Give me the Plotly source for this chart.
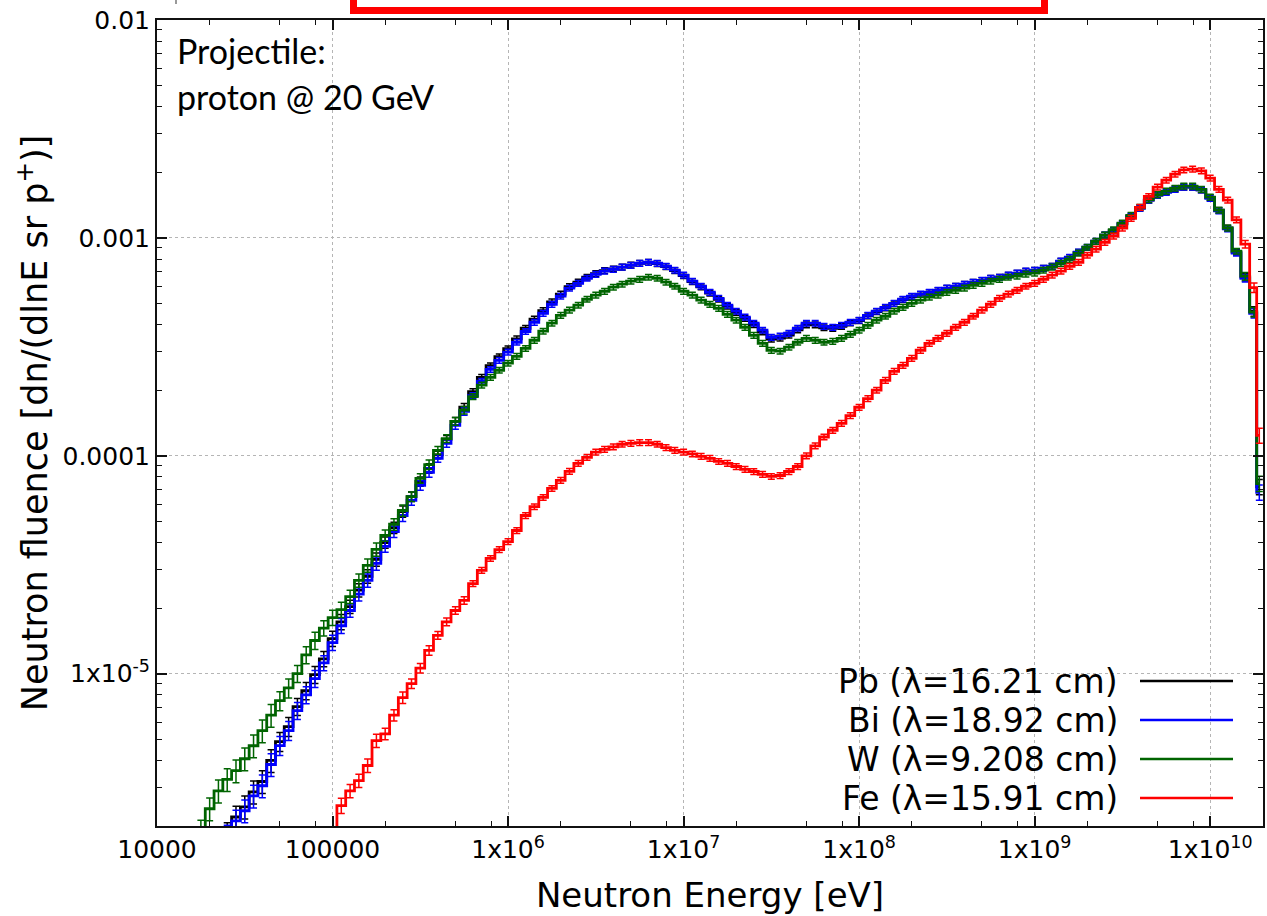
import plotly.graph_objects as go

# log10 of bin-centre energy (eV), 20 bins per decade
LOG_E = [
    4.20, 4.25, 4.30, 4.35, 4.40, 4.45, 4.50, 4.55, 4.60, 4.65,
    4.70, 4.75, 4.80, 4.85, 4.90, 4.95, 5.00, 5.05, 5.10, 5.15,
    5.20, 5.25, 5.30, 5.35, 5.40, 5.45, 5.50, 5.55, 5.60, 5.65,
    5.70, 5.75, 5.80, 5.85, 5.90, 5.95, 6.00, 6.05, 6.10, 6.15,
    6.20, 6.25, 6.30, 6.35, 6.40, 6.45, 6.50, 6.55, 6.60, 6.65,
    6.70, 6.75, 6.80, 6.85, 6.90, 6.95, 7.00, 7.05, 7.10, 7.15,
    7.20, 7.25, 7.30, 7.35, 7.40, 7.45, 7.50, 7.55, 7.60, 7.65,
    7.70, 7.75, 7.80, 7.85, 7.90, 7.95, 8.00, 8.05, 8.10, 8.15,
    8.20, 8.25, 8.30, 8.35, 8.40, 8.45, 8.50, 8.55, 8.60, 8.65,
    8.70, 8.75, 8.80, 8.85, 8.90, 8.95, 9.00, 9.05, 9.10, 9.15,
    9.20, 9.25, 9.30, 9.35, 9.40, 9.45, 9.50, 9.55, 9.60, 9.65,
    9.70, 9.75, 9.80, 9.85, 9.90, 9.95, 10.00, 10.05, 10.10, 10.15,
    10.20, 10.25, 10.28,
]
ENERGY = [10 ** v for v in LOG_E]

PB = [
    1.0e-6, 1.2e-6, 1.4e-6, 1.6e-6, 1.85e-6, 2.2e-6, 2.45e-6, 2.87e-6, 3.2e-6, 4.0e-6,
    4.88e-6, 5.72e-6, 7.06e-6, 8.35e-6, 9.9e-6, 1.17e-5, 1.45e-5, 1.73e-5, 2.03e-5, 2.42e-5,
    2.80e-5, 3.35e-5, 4.0e-5, 4.68e-5, 5.55e-5, 6.5e-5, 7.62e-5, 8.76e-5, 1.01e-4, 1.19e-4,
    1.44e-4, 1.67e-4, 1.97e-4, 2.29e-4, 2.59e-4, 2.85e-4, 3.10e-4, 3.44e-4, 3.85e-4, 4.24e-4,
    4.64e-4, 5.09e-4, 5.52e-4, 5.98e-4, 6.27e-4, 6.6e-4, 6.86e-4, 7.08e-4, 7.2e-4, 7.35e-4,
    7.5e-4, 7.64e-4, 7.72e-4, 7.63e-4, 7.38e-4, 7.08e-4, 6.72e-4, 6.3e-4, 5.96e-4, 5.58e-4,
    5.23e-4, 4.86e-4, 4.55e-4, 4.27e-4, 4.0e-4, 3.7e-4, 3.43e-4, 3.47e-4, 3.58e-4, 3.78e-4,
    3.99e-4, 3.99e-4, 3.87e-4, 3.84e-4, 3.93e-4, 4.07e-4, 4.17e-4, 4.39e-4, 4.59e-4, 4.78e-4,
    4.99e-4, 5.21e-4, 5.38e-4, 5.5e-4, 5.62e-4, 5.74e-4, 5.87e-4, 5.99e-4, 6.12e-4, 6.25e-4,
    6.38e-4, 6.52e-4, 6.6e-4, 6.74e-4, 6.88e-4, 7.03e-4, 7.1e-4, 7.25e-4, 7.4e-4, 7.8e-4,
    8.13e-4, 8.58e-4, 9.04e-4, 9.63e-4, 1.03e-3, 1.08e-3, 1.16e-3, 1.26e-3, 1.37e-3, 1.49e-3,
    1.57e-3, 1.63e-3, 1.68e-3, 1.71e-3, 1.71e-3, 1.66e-3, 1.53e-3, 1.34e-3, 1.11e-3, 8.6e-4,
    6.6e-4, 4.6e-4, 7.2e-5,
]

BI = [
    1.0e-6, 1.2e-6, 1.4e-6, 1.6e-6, 1.8e-6, 2.11e-6, 2.35e-6, 2.75e-6, 3.06e-6, 3.83e-6,
    4.68e-6, 5.48e-6, 6.77e-6, 8.0e-6, 9.5e-6, 1.12e-5, 1.39e-5, 1.66e-5, 1.95e-5, 2.32e-5,
    2.68e-5, 3.21e-5, 3.84e-5, 4.49e-5, 5.32e-5, 6.24e-5, 7.31e-5, 8.40e-5, 9.73e-5, 1.14e-4,
    1.38e-4, 1.60e-4, 1.89e-4, 2.20e-4, 2.49e-4, 2.74e-4, 2.99e-4, 3.32e-4, 3.72e-4, 4.10e-4,
    4.51e-4, 4.96e-4, 5.40e-4, 5.88e-4, 6.19e-4, 6.53e-4, 6.81e-4, 7.04e-4, 7.18e-4, 7.34e-4,
    7.49e-4, 7.65e-4, 7.73e-4, 7.65e-4, 7.41e-4, 7.11e-4, 6.75e-4, 6.33e-4, 6.00e-4, 5.63e-4,
    5.28e-4, 4.91e-4, 4.61e-4, 4.33e-4, 4.06e-4, 3.77e-4, 3.50e-4, 3.54e-4, 3.65e-4, 3.85e-4,
    4.06e-4, 4.06e-4, 3.93e-4, 3.89e-4, 3.97e-4, 4.10e-4, 4.19e-4, 4.41e-4, 4.61e-4, 4.80e-4,
    5.01e-4, 5.23e-4, 5.40e-4, 5.52e-4, 5.63e-4, 5.75e-4, 5.88e-4, 6.00e-4, 6.13e-4, 6.26e-4,
    6.39e-4, 6.53e-4, 6.60e-4, 6.75e-4, 6.89e-4, 7.04e-4, 7.11e-4, 7.26e-4, 7.41e-4, 7.82e-4,
    8.15e-4, 8.60e-4, 9.06e-4, 9.65e-4, 1.03e-3, 1.08e-3, 1.16e-3, 1.26e-3, 1.37e-3, 1.49e-3,
    1.57e-3, 1.62e-3, 1.67e-3, 1.71e-3, 1.71e-3, 1.66e-3, 1.52e-3, 1.33e-3, 1.10e-3, 8.51e-4,
    6.53e-4, 4.51e-4, 6.8e-5,
]

W = [
    1.5e-6, 1.9e-6, 2.4e-6, 2.9e-6, 3.27e-6, 3.59e-6, 4.07e-6, 4.67e-6, 5.48e-6, 6.45e-6,
    7.52e-6, 8.6e-6, 1.0e-5, 1.22e-5, 1.42e-5, 1.62e-5, 1.81e-5, 1.97e-5, 2.26e-5, 2.68e-5,
    3.14e-5, 3.72e-5, 4.31e-5, 4.85e-5, 5.61e-5, 6.5e-5, 7.87e-5, 9.1e-5, 1.06e-4, 1.2e-4,
    1.44e-4, 1.62e-4, 1.87e-4, 2.11e-4, 2.29e-4, 2.47e-4, 2.66e-4, 2.86e-4, 3.11e-4, 3.39e-4,
    3.73e-4, 4.06e-4, 4.41e-4, 4.66e-4, 4.91e-4, 5.23e-4, 5.46e-4, 5.69e-4, 5.94e-4, 6.13e-4,
    6.33e-4, 6.46e-4, 6.60e-4, 6.53e-4, 6.26e-4, 6.0e-4, 5.69e-4, 5.46e-4, 5.18e-4, 4.96e-4,
    4.75e-4, 4.46e-4, 4.19e-4, 3.89e-4, 3.57e-4, 3.28e-4, 3.05e-4, 3.02e-4, 3.15e-4, 3.32e-4,
    3.46e-4, 3.39e-4, 3.32e-4, 3.35e-4, 3.46e-4, 3.61e-4, 3.77e-4, 3.97e-4, 4.19e-4, 4.37e-4,
    4.61e-4, 4.80e-4, 5.01e-4, 5.18e-4, 5.35e-4, 5.46e-4, 5.63e-4, 5.75e-4, 5.88e-4, 6.06e-4,
    6.19e-4, 6.33e-4, 6.46e-4, 6.60e-4, 6.67e-4, 6.82e-4, 6.89e-4, 7.11e-4, 7.34e-4, 7.65e-4,
    7.98e-4, 8.51e-4, 9.06e-4, 9.65e-4, 1.03e-3, 1.09e-3, 1.17e-3, 1.27e-3, 1.38e-3, 1.50e-3,
    1.58e-3, 1.64e-3, 1.69e-3, 1.73e-3, 1.73e-3, 1.67e-3, 1.54e-3, 1.34e-3, 1.11e-3, 8.69e-4,
    6.67e-4, 4.56e-4, 7.46e-5,
]

FE = [
    None, None, None, None, None, None, None, None, None, None,
    None, None, None, None, None, None, 1.5e-6, 2.48e-6, 2.90e-6, 3.23e-6,
    3.79e-6, 4.93e-6, 5.3e-6, 6.45e-6, 7.77e-6, 9.0e-6, 1.06e-5, 1.28e-5, 1.50e-5, 1.73e-5,
    1.95e-5, 2.17e-5, 2.59e-5, 2.98e-5, 3.38e-5, 3.71e-5, 4.04e-5, 4.54e-5, 5.32e-5, 5.84e-5,
    6.44e-5, 7.08e-5, 7.71e-5, 8.49e-5, 9.23e-5, 9.84e-5, 1.04e-4, 1.07e-4, 1.10e-4, 1.13e-4,
    1.14e-4, 1.15e-4, 1.15e-4, 1.13e-4, 1.09e-4, 1.06e-4, 1.04e-4, 1.02e-4, 9.94e-5, 9.73e-5,
    9.42e-5, 9.23e-5, 8.93e-5, 8.67e-5, 8.47e-5, 8.22e-5, 8.04e-5, 8.12e-5, 8.47e-5, 8.93e-5,
    1.0e-4, 1.11e-4, 1.22e-4, 1.31e-4, 1.41e-4, 1.53e-4, 1.67e-4, 1.83e-4, 2.0e-4, 2.22e-4,
    2.44e-4, 2.60e-4, 2.80e-4, 3.05e-4, 3.28e-4, 3.46e-4, 3.65e-4, 3.89e-4, 4.10e-4, 4.37e-4,
    4.66e-4, 4.96e-4, 5.28e-4, 5.52e-4, 5.75e-4, 6.0e-4, 6.19e-4, 6.46e-4, 6.75e-4, 7.04e-4,
    7.41e-4, 7.73e-4, 8.33e-4, 8.88e-4, 9.55e-4, 1.02e-3, 1.11e-3, 1.23e-3, 1.38e-3, 1.55e-3,
    1.71e-3, 1.84e-3, 1.96e-3, 2.05e-3, 2.07e-3, 2.03e-3, 1.88e-3, 1.67e-3, 1.49e-3, 1.21e-3,
    9.36e-4, 5.91e-4, 1.24e-4,
]

# relative statistical error (%) per bin
ERR_PCT = [
    12, 12, 12, 12, 12, 12, 12, 12, 12, 12,
    10, 10, 9, 9, 9, 8, 8, 8, 7, 7,
    7, 7, 6, 6, 6, 5, 5, 5, 4, 4,
    4, 4, 3, 3, 3, 3, 3, 3, 3, 3,
    3, 3, 3, 3, 3, 3, 3, 3, 3, 3,
    3, 3, 3, 3, 3, 3, 3, 3, 3, 3,
    3, 3, 3, 3, 3, 3, 3, 3, 3, 3,
    3, 3, 3, 3, 3, 3, 3, 3, 3, 3,
    3, 3, 3, 3, 3, 3, 3, 3, 3, 3,
    3, 3, 3, 3, 3, 3, 3, 3, 3, 3,
    3, 3, 3, 3, 3, 3, 3, 3, 3, 3,
    3, 3, 3, 3, 3, 3, 3, 3, 3, 3,
    4, 5, 8,
]

SERIES = [
    ("Pb (λ=16.21 cm)", PB, "#000000"),
    ("Bi (λ=18.92 cm)", BI, "#0000ff"),
    ("W (λ=9.208 cm)", W, "#006400"),
    ("Fe (λ=15.91 cm)", FE, "#ff0000"),
]

X_TICKS = [1e4, 1e5, 1e6, 1e7, 1e8, 1e9, 1e10]
X_TICKTEXT = ["10000", "100000", "1x10<sup>6</sup>", "1x10<sup>7</sup>",
              "1x10<sup>8</sup>", "1x10<sup>9</sup>", "1x10<sup>10</sup>"]
Y_TICKS = [1e-5, 1e-4, 1e-3, 1e-2]
Y_TICKTEXT = ["1x10<sup>-5</sup>", "0.0001", "0.001", "0.01"]

X_MINOR = [m * 10 ** d for d in range(4, 10) for m in (2, 5, 8)]
Y_MINOR = [m * 10.0 ** d for d in range(-6, -2) for m in range(2, 10)]

fig = go.Figure()
for name, vals, color in SERIES:
    err = [(v * p / 100.0 if v is not None else 0) for v, p in zip(vals, ERR_PCT)]
    fig.add_trace(go.Scatter(
        x=ENERGY, y=vals, name=name, mode="lines",
        line=dict(color=color, width=2.8, shape="hvh"),
        error_y=dict(type="data", array=err, color=color, thickness=1.5, width=3.5),
        showlegend=False,
    ))

# geometry helpers (paper coordinates of the plot area)
L, R, T, B = 157, 1263, 20, 826
W_PX, H_PX = 1267, 916


def px(x):
    return (x - L) / (R - L)


def py(y):
    return (B - y) / (B - T)


axis_common = dict(
    type="log", showline=True, linewidth=2, linecolor="#111", mirror="allticks",
    ticks="inside", ticklen=10, tickwidth=1.5, tickcolor="#111",
    showgrid=True, gridcolor="#b5b5b5", griddash="dot", gridwidth=1,
    zeroline=False,
    tickfont=dict(family="DejaVu Sans", size=25, color="black"),
)

fig.update_xaxes(
    **axis_common,
    range=[4, 10.30103],
    tickmode="array", tickvals=X_TICKS, ticktext=X_TICKTEXT,
    minor=dict(tickmode="array", tickvals=X_MINOR, ticks="inside", ticklen=5,
               tickwidth=1.2, tickcolor="#111", showgrid=False),
    title=dict(text="Neutron Energy [eV]", standoff=20,
               font=dict(family="DejaVu Sans", size=34, color="black")),
)
fig.update_yaxes(
    **axis_common,
    range=[-5.69897, -2],
    tickmode="array", tickvals=Y_TICKS, ticktext=Y_TICKTEXT,
    minor=dict(tickmode="array", tickvals=Y_MINOR, ticks="inside", ticklen=5,
               tickwidth=1.2, tickcolor="#111", showgrid=False),
    title=dict(text="Neutron fluence [dn/(dlnE sr p<sup>+</sup>)]", standoff=4,
               font=dict(family="DejaVu Sans", size=35, color="black")),
)

shapes = []
# white background behind the legend block
shapes.append(dict(type="rect", xref="paper", yref="paper",
                   x0=px(812), x1=px(1250), y0=py(824), y1=py(660),
                   fillcolor="white", line=dict(width=0), layer="between"))
annotations = []
legend_rows = [681, 720, 759, 798]
for (name, vals, color), yrow in zip(SERIES, legend_rows):
    annotations.append(dict(
        x=px(1120), y=py(yrow), xref="paper", yref="paper",
        text=name, showarrow=False, xanchor="right", yanchor="middle",
        font=dict(family="DejaVu Sans", size=33, color="black"),
    ))
    shapes.append(dict(type="line", xref="paper", yref="paper",
                       x0=px(1140), x1=px(1233), y0=py(yrow), y1=py(yrow),
                       line=dict(color=color, width=2.5), layer="above"))

# projectile note
annotations.append(dict(x=px(175), y=py(51), xref="paper", yref="paper",
                        text="Projectile:", showarrow=False, xanchor="left", yanchor="middle",
                        font=dict(family="Lato", size=34, color="black")))
annotations.append(dict(x=px(175), y=py(96), xref="paper", yref="paper",
                        text="proton @ 20 GeV", showarrow=False, xanchor="left", yanchor="middle",
                        font=dict(family="Lato", size=34, color="black")))

# red frame partly cut at the top of the image
shapes.append(dict(type="rect", xref="paper", yref="paper",
                   x0=px(353.5), x1=px(1044.5), y0=py(10.5), y1=py(-30),
                   line=dict(color="#ff0000", width=7), fillcolor="rgba(0,0,0,0)"))
# tiny grey mark at top-left
shapes.append(dict(type="line", xref="paper", yref="paper",
                   x0=px(176), x1=px(176), y0=py(0), y1=py(4),
                   line=dict(color="#999", width=2)))

fig.update_layout(
    width=W_PX, height=H_PX,
    margin=dict(l=L, r=W_PX - R, t=T, b=H_PX - B, autoexpand=False),
    paper_bgcolor="white", plot_bgcolor="white",
    showlegend=False,
    shapes=shapes, annotations=annotations,
)

fig.write_html("out.html")
